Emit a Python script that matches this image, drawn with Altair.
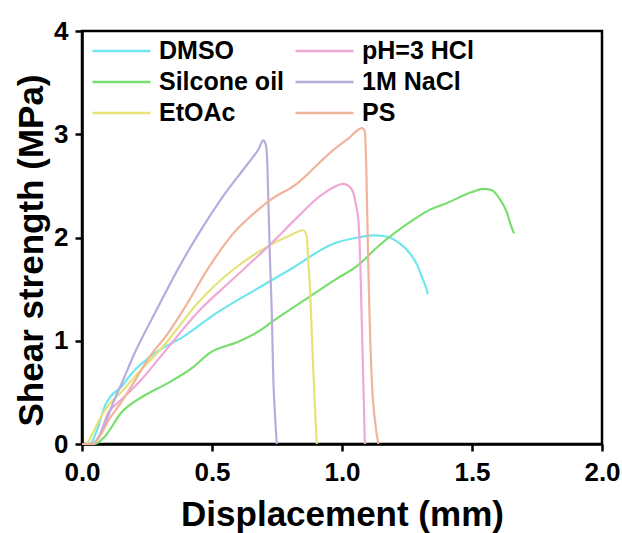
import altair as alt
import pandas as pd

# ---- data ----
dmso_x = [0, 0.03, 0.06, 0.09, 0.11, 0.15, 0.19, 0.28, 0.39, 0.518, 0.685, 0.80, 0.967, 1.06, 1.12, 1.17, 1.223, 1.26, 1.29, 1.31, 1.325, 1.33]
dmso_y = [0, 0, 0.15, 0.38, 0.46, 0.55, 0.68, 0.88, 1.04, 1.27, 1.52, 1.69, 1.94, 2.0, 2.02, 2.01, 1.94, 1.85, 1.73, 1.6, 1.5, 1.45]

sil_x = [0, 0.05, 0.087, 0.15, 0.24, 0.33, 0.43, 0.49, 0.60, 0.685, 0.723, 0.877, 0.973, 1.056, 1.146, 1.274, 1.338, 1.40, 1.50, 1.543, 1.575, 1.605, 1.633, 1.652, 1.662]
sil_y = [0, 0, 0.07, 0.30, 0.47, 0.59, 0.75, 0.88, 0.99, 1.10, 1.17, 1.43, 1.59, 1.72, 1.93, 2.17, 2.27, 2.33, 2.44, 2.47, 2.46, 2.38, 2.25, 2.1, 2.04]

etoac_x = [0, 0.015, 0.04, 0.07, 0.1, 0.15, 0.22, 0.30, 0.454, 0.582, 0.672, 0.749, 0.80, 0.851, 0.864, 0.87, 0.877, 0.885, 0.895, 0.903]
etoac_y = [0, 0, 0.1, 0.25, 0.37, 0.5, 0.7, 0.91, 1.39, 1.69, 1.85, 1.96, 2.02, 2.07, 2.01, 1.78, 1.5, 1.0, 0.4, 0]

ph_x = [0, 0.04, 0.07, 0.1, 0.125, 0.16, 0.22, 0.313, 0.454, 0.582, 0.685, 0.723, 0.826, 0.915, 0.97, 1.005, 1.03, 1.044, 1.055, 1.063, 1.07, 1.075, 1.082, 1.088]
ph_y = [0, 0, 0.1, 0.3, 0.37, 0.45, 0.6, 0.88, 1.30, 1.60, 1.84, 1.93, 2.19, 2.40, 2.49, 2.52, 2.49, 2.43, 2.3, 2.17, 1.78, 1.3, 0.6, 0]

nacl_x = [0, 0.035, 0.06, 0.09, 0.12, 0.16, 0.197, 0.287, 0.377, 0.454, 0.537, 0.633, 0.68, 0.697, 0.707, 0.713, 0.717, 0.723, 0.73, 0.736, 0.743, 0.749]
nacl_y = [0, 0, 0.05, 0.2, 0.4, 0.63, 0.85, 1.3, 1.73, 2.06, 2.38, 2.70, 2.86, 2.94, 2.9, 2.7, 2.33, 1.78, 1.27, 0.62, 0.25, 0]

ps_x = [0, 0.04, 0.07, 0.1, 0.15, 0.2, 0.262, 0.33, 0.39, 0.49, 0.582, 0.678, 0.717, 0.826, 0.954, 1.03, 1.076, 1.088, 1.094, 1.10, 1.105, 1.115, 1.128, 1.14]
ps_y = [0, 0, 0.08, 0.22, 0.4, 0.6, 0.85, 1.07, 1.30, 1.72, 2.04, 2.27, 2.35, 2.52, 2.82, 2.97, 3.06, 3.03, 2.6, 1.85, 1.33, 0.6, 0.2, 0]

series_names = ["DMSO", "Silcone oil", "EtOAc", "pH=3 HCl", "1M NaCl", "PS"]
series_x = [dmso_x, sil_x, etoac_x, ph_x, nacl_x, ps_x]
series_y = [dmso_y, sil_y, etoac_y, ph_y, nacl_y, ps_y]
series_colors = ["#6fe6ee", "#78df6e", "#e6e27a", "#efa8d6", "#b8acdc", "#f1b39b"]

x_ticks = [0, 0.5, 1.0, 1.5, 2.0]
y_ticks = [0, 1, 2, 3, 4]

rows = []
for name, xs, ys in zip(series_names, series_x, series_y):
    for i, (xv, yv) in enumerate(zip(xs, ys)):
        rows.append({"series": name, "x": xv, "y": yv, "i": i})
df = pd.DataFrame(rows)

FONT = "Liberation Sans"

chart = alt.Chart(df).mark_line(strokeWidth=2.2, interpolate="monotone").encode(
    x=alt.X("x:Q", scale=alt.Scale(domain=[0, 2], nice=False),
            axis=alt.Axis(values=x_ticks, format=".1f", title="Displacement (mm)",
                          titleX=260, titleY=81, titleBaseline="alphabetic", titleAlign="center",
                          labelPadding=8)),
    y=alt.Y("y:Q", scale=alt.Scale(domain=[0, 4], nice=False),
            axis=alt.Axis(values=y_ticks, format="d", title="Shear strength (MPa)",
                          titleX=-40, titleY=219, titleBaseline="alphabetic", titleAlign="center",
                          titleAngle=-90, labelPadding=7)),
    color=alt.Color("series:N",
                    scale=alt.Scale(domain=series_names, range=series_colors),
                    legend=alt.Legend(title=None, orient="none", legendX=9, legendY=4,
                                      columns=2, columnPadding=5, rowPadding=2,
                                      symbolType="M-1,0H3", symbolSize=841,
                                      symbolStrokeWidth=2.5, labelOffset=36,
                                      labelFont=FONT, labelFontSize=25, labelFontWeight="bold",
                                      labelColor="black", padding=0, labelLimit=400)),
    detail="series:N",
    order="i:Q",
).properties(
    width=520, height=413,
    background="white",
    autosize=alt.AutoSizeParams(type="none"),
    padding={"left": 82, "top": 31, "right": 20, "bottom": 89},
).configure_view(
    stroke="black", strokeWidth=2.5
).configure_axis(
    labelFont=FONT, labelFontSize=26, labelFontWeight="bold", labelColor="black",
    titleFont=FONT, titleFontSize=35, titleFontWeight="bold", titleColor="black",
    domainColor="black", domainWidth=2.5, tickColor="black", tickWidth=2.5, tickSize=7,
    grid=False, labelOverlap=False, labelFlush=False
)

chart.save("out.html", embed_options={"renderer": "svg", "actions": False})
